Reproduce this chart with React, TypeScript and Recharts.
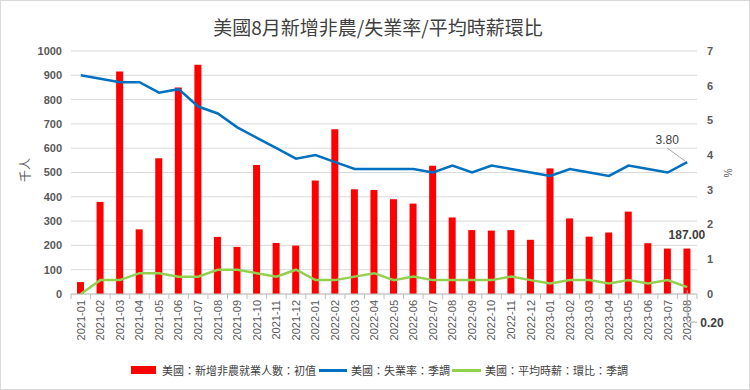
import React from "react";
import {
  Bar,
  CartesianGrid,
  ComposedChart,
  LabelList,
  Line,
  XAxis,
  YAxis,
} from "recharts";

const months = [
  "2021-01", "2021-02", "2021-03", "2021-04", "2021-05", "2021-06", "2021-07", "2021-08",
  "2021-09", "2021-10", "2021-11", "2021-12", "2022-01", "2022-02", "2022-03", "2022-04",
  "2022-05", "2022-06", "2022-07", "2022-08", "2022-09", "2022-10", "2022-11", "2022-12",
  "2023-01", "2023-02", "2023-03", "2023-04", "2023-05", "2023-06", "2023-07", "2023-08",
];

// 新增非農就業人數 (千人)
const payrolls = [
  49, 379, 916, 266, 559, 850, 943, 235, 194, 531, 210, 199, 467, 678, 431, 428,
  390, 372, 528, 315, 263, 261, 263, 223, 517, 311, 236, 253, 339, 209, 187, 187,
];

// 失業率 (%)
const unemployment = [
  6.3, 6.2, 6.1, 6.1, 5.8, 5.9, 5.4, 5.2, 4.8, 4.5, 4.2, 3.9, 4.0, 3.8, 3.6, 3.6,
  3.6, 3.6, 3.5, 3.7, 3.5, 3.7, 3.6, 3.5, 3.4, 3.6, 3.5, 3.4, 3.7, 3.6, 3.5, 3.8,
];

// 平均時薪環比 (%)
const wageMoM = [
  0.0, 0.4, 0.4, 0.6, 0.6, 0.5, 0.5, 0.7, 0.7, 0.6, 0.5, 0.7, 0.4, 0.4, 0.5, 0.6,
  0.4, 0.5, 0.4, 0.4, 0.4, 0.4, 0.5, 0.4, 0.3, 0.4, 0.4, 0.3, 0.4, 0.3, 0.4, 0.2,
];

const leftTicks = [0, 100, 200, 300, 400, 500, 600, 700, 800, 900, 1000];
const rightTicks = [0, 1, 2, 3, 4, 5, 6, 7];

const seriesNames = [
  "美國：新增非農就業人數：初值",
  "美國：失業率：季調",
  "美國：平均時薪：環比：季調",
];

const data = months.map((month, i) => ({
  month,
  payrolls: payrolls[i],
  unemployment: unemployment[i],
  wage: wageMoM[i],
}));

const W = 750;
const H = 390;
const LEFT_W = 71;
const RIGHT_W = 53;
const STEP = (W - LEFT_W - RIGHT_W) / months.length;
const LAST = months.length - 1;
const numFont = "'Liberation Sans', Arial, sans-serif";
const cjkFont = "'Noto Sans CJK TC', 'Noto Sans CJK SC', sans-serif";

function MonthTick(props: any) {
  const { x, y, payload, index } = props;
  return (
    <g>
      <line x1={x - STEP / 2} x2={x - STEP / 2} y1={y} y2={y + 5} stroke="#bfbfbf" />
      {index === LAST && (
        <line x1={x + STEP / 2} x2={x + STEP / 2} y1={y} y2={y + 5} stroke="#bfbfbf" />
      )}
      <text
        transform={`translate(${x},${y + 6}) rotate(-90)`}
        textAnchor="end"
        dy="0.35em"
        fontSize={11}
        fill="#595959"
        fontFamily={numFont}
      >
        {payload.value}
      </text>
    </g>
  );
}

function pos(props: any) {
  const vb = props.viewBox || {};
  return {
    x: props.x ?? vb.x,
    y: props.y ?? vb.y,
    width: props.width ?? vb.width ?? 0,
  };
}

function BarLastLabel(props: any) {
  if (props.index !== LAST) return null;
  const { x, y, width } = pos(props);
  return (
    <text x={x + width / 2} y={y - 10} textAnchor="middle" fontSize={12} fontWeight="bold" fill="#404040" fontFamily={numFont}>
      {Number(props.value).toFixed(2)}
    </text>
  );
}

function RateLastLabel(props: any) {
  if (props.index !== LAST) return null;
  const { x, y } = pos(props);
  return (
    <g>
      <line x1={x - 20} y1={y - 14} x2={x - 2} y2={y - 1} stroke="#a6a6a6" />
      <text x={x - 20} y={y - 18} textAnchor="middle" fontSize={12} fill="#404040" fontFamily={numFont}>
        {Number(props.value).toFixed(2)}
      </text>
    </g>
  );
}

function WageLastLabel(props: any) {
  if (props.index !== LAST) return null;
  const { x, y } = pos(props);
  return (
    <g>
      <polyline points={`${x},${y + 3} ${x},${y + 35} ${x + 10},${y + 35}`} fill="none" stroke="#a6a6a6" />
      <text x={x + 13} y={y + 40} fontSize={12} fontWeight="bold" fill="#404040" fontFamily={numFont}>
        {Number(props.value).toFixed(2)}
      </text>
    </g>
  );
}

export default function App() {
  const tickStyle = { fontSize: 11, fill: "#595959", fontWeight: "bold", fontFamily: numFont };
  return (
    <div style={{ position: "absolute", left: 0, top: 0, width: W, height: H, background: "#fff" }}>
      <ComposedChart width={W} height={H} data={data} margin={{ top: 51, right: 0, bottom: 0, left: 0 }}>
        <CartesianGrid yAxisId="left" vertical={false} stroke="#d9d9d9" />
        <XAxis
          dataKey="month"
          interval={0}
          height={96}
          tickSize={0}
          tickMargin={0}
          tick={<MonthTick />}
          stroke="#bfbfbf"
        />
        <YAxis
          yAxisId="left"
          width={LEFT_W}
          domain={[0, 1000]}
          ticks={leftTicks}
          axisLine={false}
          tickLine={false}
          tickSize={0}
          tickMargin={9}
          tick={tickStyle}
        />
        <YAxis
          yAxisId="right"
          orientation="right"
          width={RIGHT_W}
          domain={[0, 7]}
          ticks={rightTicks}
          axisLine={false}
          tickLine={false}
          tickSize={0}
          tickMargin={10}
          tick={{ ...tickStyle, textAnchor: "start" }}
        />
        <Bar yAxisId="left" dataKey="payrolls" fill="#ff0000" barSize={7} isAnimationActive={false}>
          <LabelList dataKey="payrolls" content={<BarLastLabel />} />
        </Bar>
        <Line
          yAxisId="right"
          dataKey="unemployment"
          type="linear"
          stroke="#0070c0"
          strokeWidth={2.5}
          dot={false}
          isAnimationActive={false}
        >
          <LabelList dataKey="unemployment" content={<RateLastLabel />} />
        </Line>
        <Line
          yAxisId="right"
          dataKey="wage"
          type="linear"
          stroke="#92d050"
          strokeWidth={2.5}
          dot={false}
          isAnimationActive={false}
        >
          <LabelList dataKey="wage" content={<WageLastLabel />} />
        </Line>
      </ComposedChart>

      <svg width={W} height={H} style={{ position: "absolute", left: 0, top: 0, pointerEvents: "none" }}>
        <text x={378} y={35} textAnchor="middle" fontSize={19} fill="#404040" fontFamily={cjkFont}>
          美國8月新增非農/失業率/平均時薪環比
        </text>
        <text transform="translate(26,170) rotate(-90)" textAnchor="middle" dy="0.35em" fontSize={12} fill="#595959" fontFamily={cjkFont}>
          千人
        </text>
        <text transform="translate(727,173) rotate(90)" textAnchor="middle" dy="0.35em" fontSize={10} fill="#595959" fontFamily={numFont}>
          %
        </text>
      </svg>

      <div
        style={{
          position: "absolute",
          left: 131,
          top: 362,
          display: "flex",
          alignItems: "center",
          fontSize: 11,
          lineHeight: "16px",
          color: "#404040",
          fontFamily: cjkFont,
          whiteSpace: "nowrap",
        }}
      >
        <span style={{ display: "inline-block", width: 25, height: 8, background: "#ff0000", marginRight: 6 }} />
        <span>{seriesNames[0]}</span>
        <span style={{ display: "inline-block", width: 28, height: 3, background: "#0070c0", margin: "0 4px 0 3px" }} />
        <span>{seriesNames[1]}</span>
        <span style={{ display: "inline-block", width: 29, height: 3, background: "#92d050", margin: "0 4px 0 2px" }} />
        <span>{seriesNames[2]}</span>
      </div>

      <div
        style={{
          position: "absolute",
          left: 0,
          top: 0,
          width: W,
          height: H,
          boxSizing: "border-box",
          border: "1px solid #d9d9d9",
          pointerEvents: "none",
        }}
      />
    </div>
  );
}
